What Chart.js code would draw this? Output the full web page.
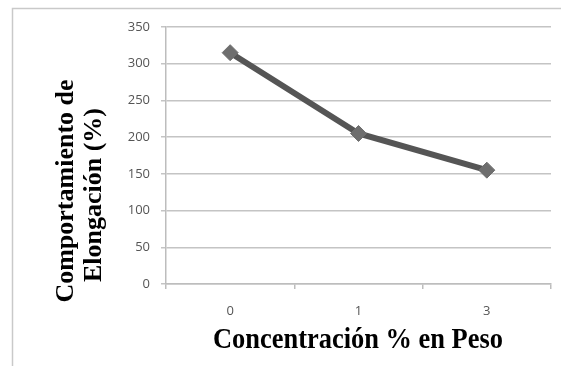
<!DOCTYPE html>
<html>
<head>
<meta charset="utf-8">
<script src="https://cdn.jsdelivr.net/npm/chart.js@4/dist/chart.umd.min.js"></script>
<style>
  html, body { margin: 0; padding: 0; background: #fff; }
  #wrap { width: 561px; height: 366px; position: relative; }
</style>
</head>
<body>
<div id="wrap"><canvas id="c" width="561" height="366"></canvas></div>
<script>
// Elongation behaviour against weight concentration
const categories = ['0', '1', '3'];
const elongation = [315, 205, 155];
const yTicks = [0, 50, 100, 150, 200, 250, 300, 350];

const xTitle = 'Concentración % en Peso';
const yTitleLines = ['Comportamiento de', 'Elongación (%)'];

// Thin grey frame around the figure
const framePlugin = {
  id: 'frame',
  beforeDraw(chart) {
    const ctx = chart.ctx;
    ctx.save();
    ctx.strokeStyle = '#c9c9c9';
    ctx.lineWidth = 1.5;
    ctx.beginPath();
    ctx.moveTo(12.5, 366);
    ctx.lineTo(12.5, 8.5);
    ctx.lineTo(561, 8.5);
    ctx.stroke();
    ctx.restore();
  }
};

// Axis titles in a tall bold serif face
const titlesPlugin = {
  id: 'axisTitles',
  afterDraw(chart) {
    const ctx = chart.ctx;
    ctx.save();
    ctx.fillStyle = '#000';

    // horizontal title, narrowed to fit under the plot
    ctx.font = 'bold 29px "Liberation Serif"';
    ctx.textAlign = 'center';
    ctx.textBaseline = 'alphabetic';
    const w = ctx.measureText(xTitle).width;
    const sx = 290 / w;
    ctx.save();
    ctx.translate(358, 348);
    ctx.scale(sx, 1);
    ctx.fillText(xTitle, 0, 0);
    ctx.restore();

    // vertical title, two lines
    ctx.font = 'bold 26px "Liberation Serif"';
    ctx.textBaseline = 'middle';
    const cols = [{ x: 65, y: 191 }, { x: 93, y: 195 }];
    yTitleLines.forEach((line, i) => {
      ctx.save();
      ctx.translate(cols[i].x, cols[i].y);
      ctx.rotate(-Math.PI / 2);
      ctx.fillText(line, 0, 1);
      ctx.restore();
    });
    ctx.restore();
  }
};

new Chart(document.getElementById('c'), {
  type: 'line',
  data: {
    labels: categories,
    datasets: [{
      data: elongation,
      borderColor: '#555555',
      borderWidth: 6,
      pointStyle: 'rectRot',
      pointRadius: 8,
      pointBackgroundColor: '#6e6e6e',
      pointBorderColor: '#6e6e6e',
      pointBorderWidth: 1,
      tension: 0
    }]
  },
  options: {
    responsive: false,
    animation: false,
    devicePixelRatio: 1,
    layout: { padding: { top: 27, right: 10, left: 40, bottom: 0 } },
    plugins: { legend: { display: false }, tooltip: { enabled: false } },
    scales: {
      x: {
        offset: true,
        grid: { display: true, drawOnChartArea: false, offset: true, color: '#bdbdbd', lineWidth: 1.5, tickLength: 5 },
        border: { color: '#bdbdbd', width: 1.5 },
        ticks: { color: '#555', font: { family: 'Open Sans', size: 13 }, padding: 14 },
        afterFit(s) { s.height = 82; }
      },
      y: {
        min: 0,
        max: 350,
        afterBuildTicks(s) { s.ticks = yTicks.map(v => ({ value: v })); },
        grid: { color: '#c4c4c4', lineWidth: 1.5, tickLength: 5 },
        border: { color: '#bdbdbd', width: 1.5 },
        ticks: { color: '#555', font: { family: 'Open Sans', size: 13 }, padding: 11 },
        afterFit(s) { s.width = 126; }
      }
    }
  },
  plugins: [framePlugin, titlesPlugin]
});
</script>
</body>
</html>
